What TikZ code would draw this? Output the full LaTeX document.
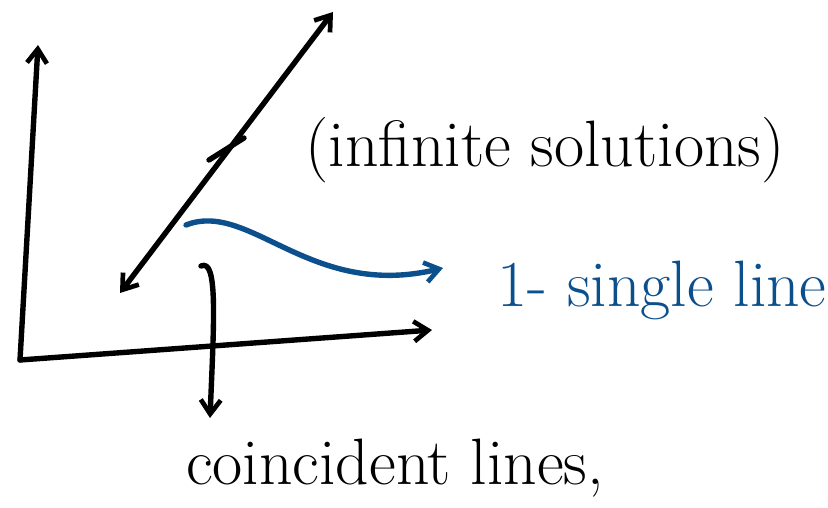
\documentclass[tikz,border=0pt]{standalone}
\usepackage{amsmath}
\usepackage{tikz}
\usetikzlibrary{arrows.meta,positioning,calc}
\definecolor{penblue}{HTML}{0B4F8C}
\tikzset{ pen/.style={line width=4.6pt,line cap=round,line join=round},
  barb/.tip={Straight Barb[length=12pt,width=17pt,line width=4pt]},
  tip/.style={-barb},
  note/.style={inner sep=0pt,font=\fontsize{56}{56}\selectfont} }

\begin{document}
\begin{tikzpicture}[x=0.03cm,y=-0.03cm]
   \useasboundingbox (0,0) rectangle (828,508);
   % axes
   \coordinate (o) at (20,360);
   \coordinate (ytop) at (38,45);
   \coordinate (xend) at (432,330);
   \draw[pen,tip] (o) -- (ytop);
   \draw[pen,tip] (o) -- (xend);
   % the one line
   \coordinate (lo) at (120,293);
   \coordinate (hi) at (333,12);
   \draw[pen,barb-barb] (lo) -- (hi);
   \coordinate (ma) at (209,160);
   \coordinate (mb) at (244,138);
   \draw[pen] (ma) -- (mb);
   % labels
   \node[note] (inf) at (545,150) {(infinite solutions)};
   \node[note,text=penblue] (single) at (662,290) {1- single line};
   \node[note] (coin) at (395,468) {coincident lines,};
   % pointers
   \coordinate (bs) at (186,225);
   \coordinate (be) at (443,268);
   \draw[pen,penblue,tip] (bs) .. controls (250,200) and (310,300) .. (be);
   \coordinate (ks) at (201,266);
   \coordinate (ke) at (210,418);
   \draw[pen,tip] (ks) .. controls (218,258) and (214,320) .. (ke);
\end{tikzpicture}
\end{document}
